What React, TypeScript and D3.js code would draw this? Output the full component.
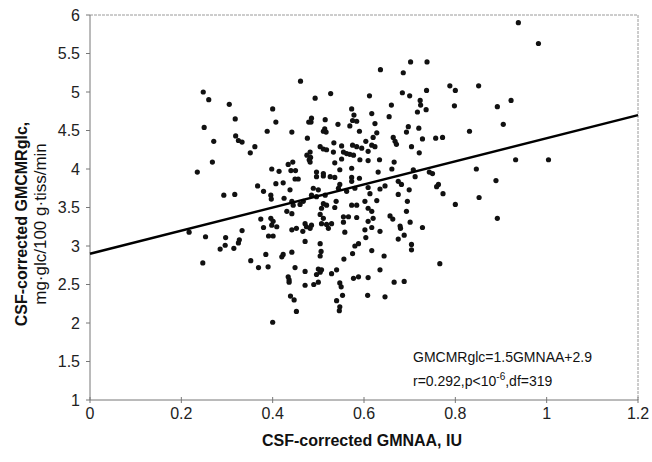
import React from "react";
import * as d3 from "d3";

// x = CSF-corrected GMNAA, y = CSF-corrected GMCMRglc
const points: [number, number][] = [
  [0.461, 5.14], [0.248, 5.0], [0.26, 4.9], [0.305, 4.84], [0.4, 4.78], [0.318, 4.65],
  [0.407, 4.61], [0.25, 4.54], [0.388, 4.49], [0.442, 4.48], [0.479, 4.61], [0.271, 4.36],
  [0.319, 4.43], [0.325, 4.37], [0.333, 4.35], [0.361, 4.29], [0.351, 4.21], [0.268, 4.09],
  [0.235, 3.96], [0.476, 4.4], [0.475, 4.18], [0.483, 4.15], [0.48, 4.12], [0.398, 4.0],
  [0.414, 3.97], [0.434, 4.06], [0.444, 4.09], [0.44, 3.98], [0.45, 3.98],
  [0.293, 3.66], [0.317, 3.67], [0.367, 3.78], [0.38, 3.71], [0.396, 3.66], [0.397, 3.61],
  [0.407, 3.81], [0.423, 3.82], [0.438, 3.73], [0.449, 3.87], [0.456, 3.87], [0.425, 3.62],
  [0.442, 3.58], [0.445, 3.53], [0.46, 3.54], [0.467, 3.58], [0.217, 3.18], [0.253, 3.12],
  [0.297, 3.11], [0.333, 3.2], [0.327, 3.08], [0.325, 3.04], [0.296, 3.01], [0.285, 2.96],
  [0.315, 2.97], [0.247, 2.78], [0.352, 2.81], [0.369, 2.72], [0.39, 2.73], [0.385, 2.89],
  [0.374, 3.35], [0.38, 3.24], [0.396, 3.36], [0.401, 3.32], [0.398, 3.27], [0.409, 3.25],
  [0.391, 3.13], [0.401, 3.13], [0.42, 2.86], [0.423, 2.89], [0.442, 2.92], [0.449, 2.72],
  [0.434, 2.6], [0.436, 2.56], [0.436, 2.53], [0.471, 2.67], [0.471, 2.49], [0.439, 2.35],
  [0.447, 2.3], [0.452, 2.15], [0.4, 2.01], [0.442, 3.21], [0.452, 3.23], [0.466, 3.19],
  [0.471, 3.29], [0.474, 3.25], [0.471, 3.06], [0.442, 3.42], [0.431, 3.45],
  [0.636, 5.29], [0.702, 5.39], [0.738, 5.39], [0.686, 5.25], [0.493, 4.92], [0.527, 4.98],
  [0.612, 4.95], [0.684, 4.99], [0.7, 4.95], [0.737, 5.02], [0.66, 4.83], [0.723, 4.89],
  [0.724, 4.83], [0.717, 4.74], [0.736, 4.77], [0.573, 4.78], [0.617, 4.72], [0.655, 4.68],
  [0.485, 4.66], [0.484, 4.61], [0.515, 4.64], [0.578, 4.7], [0.575, 4.63], [0.584, 4.62],
  [0.543, 4.58], [0.569, 4.56], [0.624, 4.59], [0.514, 4.52], [0.517, 4.48], [0.511, 4.49],
  [0.59, 4.49], [0.628, 4.47], [0.697, 4.55], [0.693, 4.48], [0.72, 4.53], [0.664, 4.41],
  [0.668, 4.36], [0.671, 4.32], [0.728, 4.39], [0.757, 4.4], [0.534, 4.34], [0.604, 4.36],
  [0.62, 4.41], [0.617, 4.31], [0.624, 4.29], [0.504, 4.29], [0.511, 4.26], [0.518, 4.25],
  [0.551, 4.3], [0.555, 4.22], [0.562, 4.2], [0.569, 4.19], [0.577, 4.18], [0.575, 4.31],
  [0.584, 4.29], [0.595, 4.27], [0.609, 4.23], [0.533, 4.22], [0.704, 4.29], [0.721, 4.21],
  [0.482, 4.22], [0.482, 4.09], [0.536, 4.08], [0.551, 4.13], [0.591, 4.12], [0.609, 4.11],
  [0.634, 4.12], [0.666, 4.09], [0.547, 3.99], [0.573, 4.01], [0.631, 3.96], [0.661, 4.0],
  [0.511, 3.94], [0.496, 3.96],
  [0.938, 5.9], [0.982, 5.63], [0.788, 5.08], [0.8, 5.02], [0.851, 5.08], [0.798, 4.82],
  [0.892, 4.81], [0.922, 4.89], [0.905, 4.58], [0.831, 4.49], [0.772, 4.41], [0.932, 4.12],
  [1.004, 4.12], [0.846, 4.0],
  [0.889, 3.85], [0.773, 3.68], [0.852, 3.63], [0.8, 3.54], [0.892, 3.36], [0.766, 2.77],
  [0.763, 3.8], [0.743, 3.96], [0.75, 3.94], [0.708, 3.99],
  [0.496, 3.9], [0.511, 3.91], [0.526, 3.9], [0.536, 3.89], [0.573, 3.89], [0.59, 3.88],
  [0.573, 3.84], [0.547, 3.8], [0.544, 3.75], [0.489, 3.75], [0.5, 3.73], [0.485, 3.66],
  [0.496, 3.64], [0.515, 3.66], [0.511, 3.55], [0.518, 3.53], [0.507, 3.49], [0.539, 3.58],
  [0.536, 3.5], [0.562, 3.71], [0.58, 3.75], [0.609, 3.76], [0.613, 3.68], [0.635, 3.74],
  [0.646, 3.78], [0.573, 3.53], [0.584, 3.53], [0.602, 3.58], [0.609, 3.49], [0.617, 3.45],
  [0.628, 3.59], [0.675, 3.84], [0.682, 3.8], [0.675, 3.67], [0.699, 3.73], [0.712, 3.9],
  [0.759, 3.77], [0.695, 3.58], [0.693, 3.45], [0.485, 3.27], [0.482, 3.23], [0.504, 3.41],
  [0.511, 3.36], [0.507, 3.29], [0.518, 3.28], [0.529, 3.29], [0.522, 3.23], [0.555, 3.38],
  [0.566, 3.38], [0.555, 3.31], [0.584, 3.37], [0.62, 3.36], [0.609, 3.32], [0.617, 3.24],
  [0.602, 3.21], [0.635, 3.19], [0.558, 3.18], [0.657, 3.39], [0.663, 3.35], [0.679, 3.26],
  [0.68, 3.23], [0.688, 3.14], [0.675, 3.09], [0.701, 3.31], [0.728, 3.24], [0.504, 3.03],
  [0.506, 2.93], [0.504, 2.87], [0.604, 3.11], [0.588, 3.03], [0.58, 3.0], [0.575, 2.9],
  [0.617, 2.94], [0.644, 2.87], [0.704, 3.02], [0.704, 2.95], [0.556, 2.83], [0.5, 2.7],
  [0.504, 2.66], [0.496, 2.63], [0.507, 2.69], [0.54, 2.69], [0.529, 2.64], [0.635, 2.69],
  [0.577, 2.58], [0.588, 2.6], [0.609, 2.59], [0.49, 2.5], [0.5, 2.53], [0.547, 2.52],
  [0.55, 2.47], [0.666, 2.53], [0.688, 2.54], [0.553, 2.36], [0.608, 2.36], [0.646, 2.34],
  [0.54, 2.29], [0.547, 2.21], [0.546, 2.16],
];

const xTicks = [0, 0.2, 0.4, 0.6, 0.8, 1, 1.2];
const yTicks = [1, 1.5, 2, 2.5, 3, 3.5, 4, 4.5, 5, 5.5, 6];
const slope = 1.5;
const intercept = 2.9;

const W = 652;
const H = 462;
const margin = { top: 15, right: 14, bottom: 62, left: 90 };
const font = "'Liberation Sans', Arial, sans-serif";

export default function App() {
  const x = d3.scaleLinear().domain([0, 1.2]).range([margin.left, W - margin.right]);
  const y = d3.scaleLinear().domain([1, 6]).range([H - margin.bottom, margin.top]);
  const [x0, x1] = x.range();
  const [yb, yt] = y.range();

  const fitLine = d3
    .line<number>()
    .x((d) => x(d))
    .y((d) => y(slope * d + intercept));

  return (
    <svg
      width={W}
      height={H}
      style={{ position: "absolute", left: 0, top: 0, background: "#fff" }}
      fontFamily={font}
    >
      {/* frame */}
      <line x1={x0} x2={x1} y1={yt} y2={yt} stroke="#9a9a9a" strokeDasharray="3,1" />
      <line x1={x1} x2={x1} y1={yt} y2={yb} stroke="#9a9a9a" strokeDasharray="3,1" />
      <line x1={x0} x2={x0} y1={yt} y2={yb} stroke="#777" />
      <line x1={x0} x2={x1} y1={yb} y2={yb} stroke="#777" />

      {yTicks.map((t) => (
        <g key={"y" + t}>
          <line x1={x0 - 4} x2={x0} y1={y(t)} y2={y(t)} stroke="#777" />
          <text x={80} y={y(t)} dy="0.35em" textAnchor="end" fontSize={16} fill="#222">
            {t}
          </text>
        </g>
      ))}
      {xTicks.map((t) => (
        <g key={"x" + t}>
          <line x1={x(t)} x2={x(t)} y1={yb - 3} y2={yb + 3} stroke="#777" />
          <text x={x(t)} y={yb + 19} textAnchor="middle" fontSize={16} fill="#222">
            {t}
          </text>
        </g>
      ))}

      {points.map((p, i) => (
        <circle key={i} cx={x(p[0])} cy={y(p[1])} r={2.6} fill="#111" />
      ))}

      <path d={fitLine([0, 1.2]) || ""} fill="none" stroke="#000" strokeWidth={2.5} />

      <text x={413} y={362} fontSize={14} fill="#111">
        GMCMRglc=1.5GMNAA+2.9
      </text>
      <text x={413} y={386} fontSize={14} fill="#111">
        r=0.292,p&lt;10
        <tspan dy={-6} fontSize={10}>-6</tspan>
        <tspan dy={6}>,df=319</tspan>
      </text>

      <text x={362} y={446} textAnchor="middle" fontSize={16} fontWeight="bold" fill="#111">
        CSF-corrected GMNAA, IU
      </text>
      <g transform="translate(27,224) rotate(-90)">
        <text x={0} y={0} textAnchor="middle" fontSize={16} fontWeight="bold" fill="#111">
          CSF-corrected GMCMRglc,
        </text>
        <text x={0} y={19} textAnchor="middle" fontSize={17} fill="#111">
          mg·glc/100 g·tiss/min
        </text>
      </g>
    </svg>
  );
}
